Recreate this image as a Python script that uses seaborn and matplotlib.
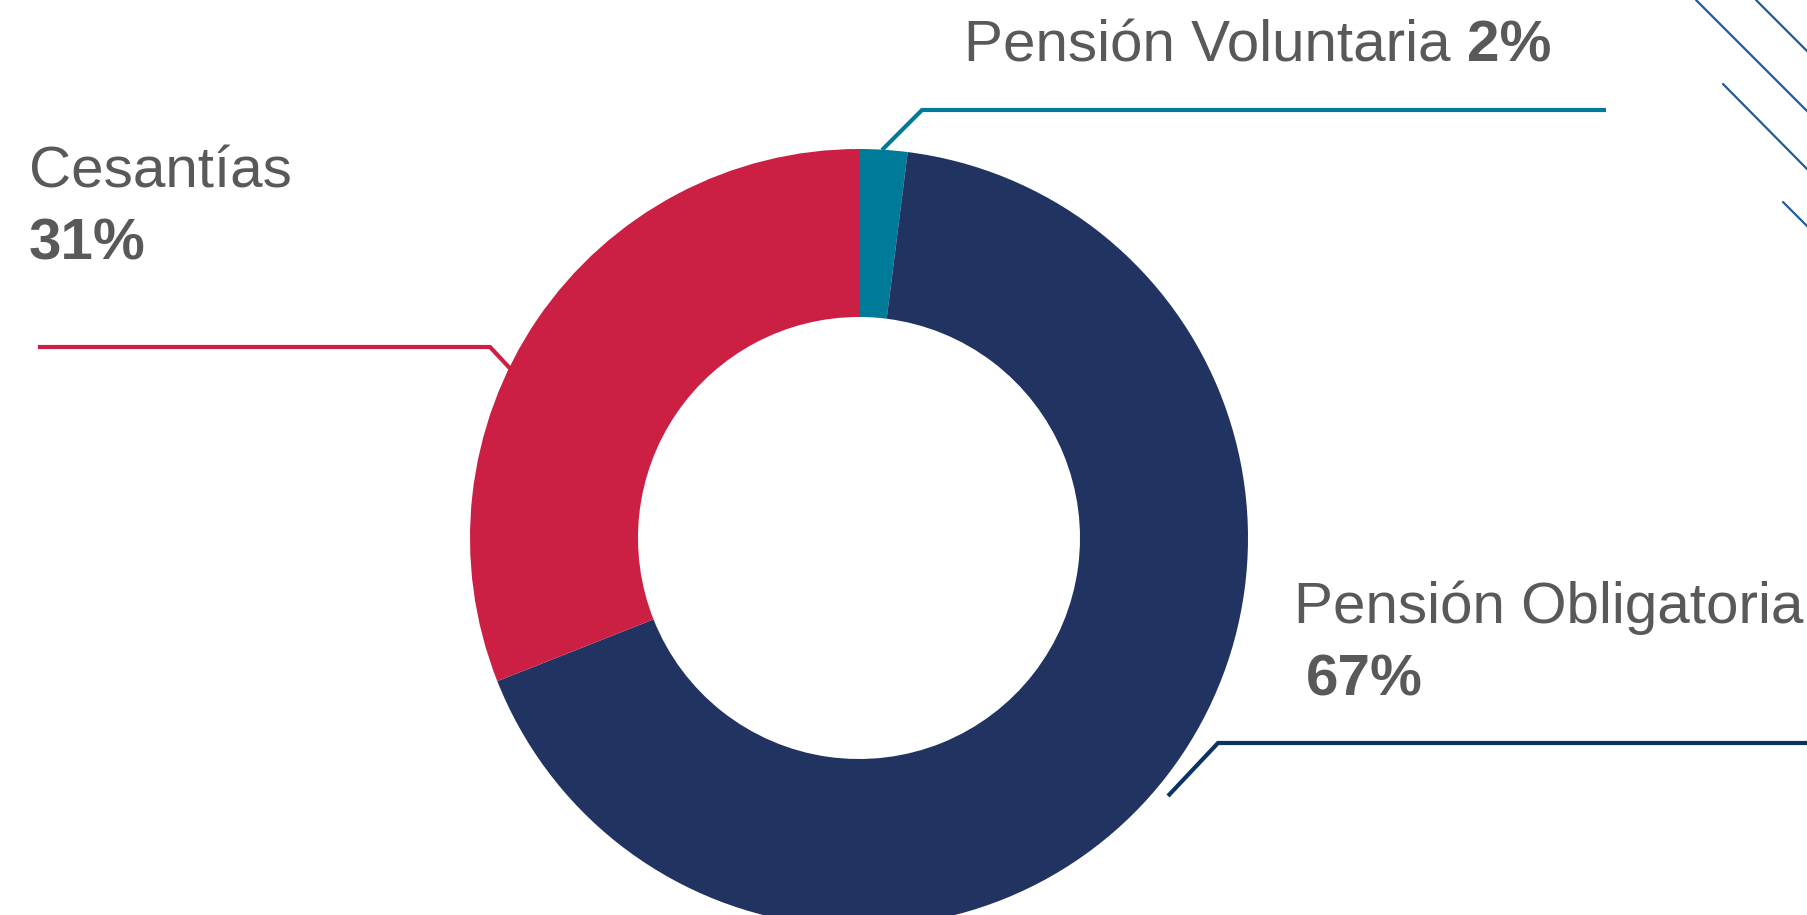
import matplotlib
matplotlib.use("Agg")
import matplotlib.pyplot as plt
import seaborn as sns

# data
categories = ["Pensión Voluntaria", "Pensión Obligatoria", "Cesantías"]
shares = [2, 67, 31]
slice_colors = ["#007A99", "#213361", "#CB2044"]
leader_colors = ["#007A99", "#0A3466", "#CB2044"]

W, H = 1808, 915
TEXT = "#595959"
FS = 42


def py(y):
    # pixel row (from top) -> data y
    return H - y


sns.set_theme(style="white")
plt.rcParams["font.family"] = ["Liberation Sans", "DejaVu Sans"]

fig = plt.figure(figsize=(W / 100, H / 100), dpi=100)
ax = fig.add_axes([0, 0, 1, 1])

palette = sns.color_palette(slice_colors)
ax.pie(shares, colors=palette, startangle=90, counterclock=False,
       radius=389, center=(859, py(538)),
       wedgeprops=dict(width=168, linewidth=0))
ax.set_xlim(0, W)
ax.set_ylim(0, H)
ax.set_aspect("auto")
ax.axis("off")

# leader lines (layout only)
leaders = {
    "Pensión Voluntaria": [(882, 150), (922, 110), (1606, 110)],
    "Pensión Obligatoria": [(1168, 796), (1218, 743), (1808, 743)],
    "Cesantías": [(519, 378), (490, 347), (38, 347)],
}
for name, col in zip(categories, leader_colors):
    pts = leaders[name]
    ax.plot([p[0] for p in pts], [py(p[1]) for p in pts], color=col,
            lw=3, solid_capstyle="butt", solid_joinstyle="miter")

# decorative strokes top right
for (x0, y0), (x1, y1) in [((1696, 0), (1808, 112)), ((1756, 0), (1808, 52)),
                           ((1723, 84), (1808, 170)), ((1783, 202), (1808, 227))]:
    ax.plot([x0, x1], [py(y0), py(y1)], color="#1F5C99", lw=1.6)

labels = {c: f"{v}%" for c, v in zip(categories, shares)}

# Pensión Voluntaria + bold value on the same line
t1 = ax.text(964, py(61), categories[0], fontsize=FS, color=TEXT,
             ha="left", va="baseline")
ax.annotate(labels[categories[0]], xy=(1, 0), xycoords=t1,
            xytext=(12, 0), textcoords="offset points",
            fontsize=FS, fontweight="bold", color=TEXT, ha="left", va="bottom")

# Cesantías
ax.text(29, py(188), categories[2], fontsize=FS, color=TEXT,
        ha="left", va="baseline")
ax.text(29, py(259), labels[categories[2]], fontsize=FS, fontweight="bold",
        color=TEXT, ha="left", va="baseline")

# Pensión Obligatoria
ax.text(1294, py(623), categories[1], fontsize=FS, color=TEXT,
        ha="left", va="baseline")
ax.text(1306, py(696), labels[categories[1]], fontsize=FS, fontweight="bold",
        color=TEXT, ha="left", va="baseline")

fig.savefig("out.png", dpi=100, facecolor="white")
plt.close(fig)
